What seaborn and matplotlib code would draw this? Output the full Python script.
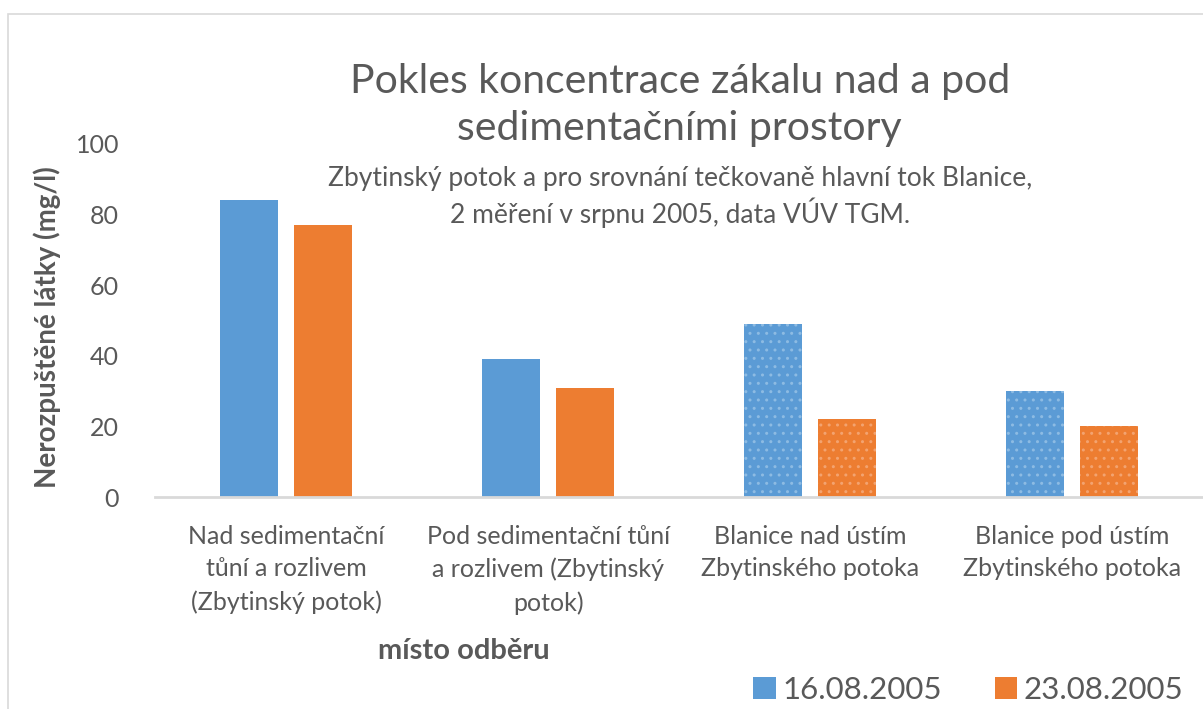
import matplotlib
matplotlib.use("Agg")
import matplotlib.pyplot as plt
from matplotlib.patches import Rectangle, Patch
import seaborn as sns
import pandas as pd

# Sampling sites (category axis)
mista = [
    "Nad sedimentační\ntůní a rozlivem\n(Zbytinský potok)",
    "Pod sedimentační tůní\na rozlivem (Zbytinský\npotok)",
    "Blanice nad ústím\nZbytinského potoka",
    "Blanice pod ústím\nZbytinského potoka",
]
# Measurement dates (series)
datumy = ["16.08.2005", "23.08.2005"]
# Suspended solids, mg/l
mereni_16 = [84, 39, 49, 30]
mereni_23 = [77, 31, 22, 20]
# Sites on the main river (Blanice) are drawn dotted
blanice = [False, False, True, True]

barvy = ["#5B9BD5", "#ED7D31"]
tecky = ["#8DBBE3", "#F3A370"]
sediva = "#595959"

df = pd.DataFrame({
    "misto": mista * 2,
    "datum": [datumy[0]] * len(mista) + [datumy[1]] * len(mista),
    "hodnota": mereni_16 + mereni_23,
})

sns.set_style("white")
plt.rcParams["font.family"] = ["Lato", "DejaVu Sans"]

fig = plt.figure(figsize=(12.03, 7.09), dpi=100)
ax = fig.add_axes([0.129, 0.299, 0.871, 0.498])

sns.barplot(data=df, x="misto", y="hodnota", hue="datum", palette=barvy,
            width=0.565, gap=0.22, legend=False, ax=ax, saturation=1,
            linewidth=0, errorbar=None)

# dotted fill for the Blanice sites
for p in ax.patches:
    stred = p.get_x() + p.get_width() / 2
    idx = int(round(stred))
    if 0 <= idx < len(blanice) and blanice[idx]:
        serie = 0 if stred < idx else 1
        p.set_hatch("..")
        p.set_edgecolor(tecky[serie])
        p.set_linewidth(0)

ax.set_ylim(0, 100)
ax.set_xlim(-0.5, len(mista) - 0.5)
ax.set_yticks([0, 20, 40, 60, 80, 100])
ax.tick_params(axis="both", length=0, colors=sediva, labelsize=18)
ax.tick_params(axis="y", pad=26)
ax.tick_params(axis="x", pad=20)
for lbl in ax.get_xticklabels():
    lbl.set_linespacing(1.5)
for s in ["top", "right", "left"]:
    ax.spines[s].set_visible(False)
ax.spines["bottom"].set_color("#D9D9D9")
ax.spines["bottom"].set_linewidth(2)

ax.set_xlabel("místo odběru", fontsize=21, fontweight="bold", color=sediva)
ax.xaxis.set_label_coords(0.295, -0.40)
ax.set_ylabel("Nerozpuštěné látky (mg/l)", fontsize=20, fontweight="bold",
              color=sediva)
ax.yaxis.set_label_coords(-0.09, 0.48)

fig.text(0.565, 0.852, "Pokles koncentrace zákalu nad a pod\nsedimentačními prostory",
         ha="center", va="center", fontsize=29.5, color=sediva, linespacing=1.32)
fig.text(0.565, 0.722, "Zbytinský potok a pro srovnání tečkovaně hlavní tok Blanice,\n"
         "2 měření v srpnu 2005, data VÚV TGM.",
         ha="center", va="center", fontsize=19, color=sediva, linespacing=1.25)

handles = [Patch(facecolor=c, edgecolor="none") for c in barvy]
fig.legend(handles, datumy, loc="center", bbox_to_anchor=(0.805, 0.027),
           ncol=2, frameon=False, fontsize=22.5, labelcolor=sediva,
           handlelength=0.72, handleheight=0.72, handletextpad=0.2,
           columnspacing=1.7)

# chart area border
fig.patches.append(Rectangle((8 / 1203, -0.1), 1.2, 0.98 + 0.1,
                             transform=fig.transFigure, fill=False,
                             edgecolor="#D9D9D9", linewidth=1.2))

fig.savefig("out.png", dpi=100)
